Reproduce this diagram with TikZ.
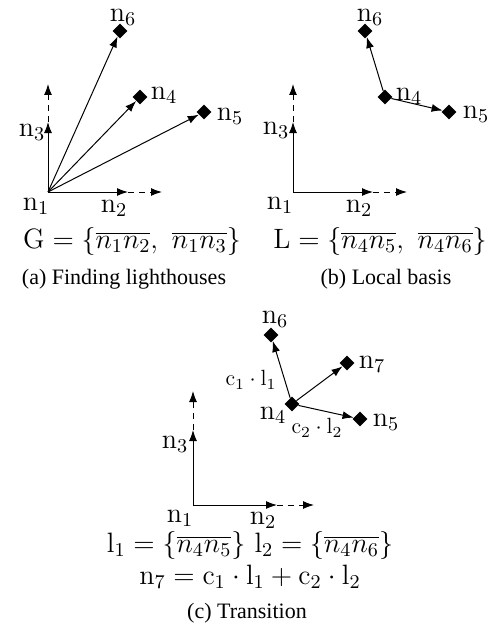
\RequirePackage{fix-cm}
\documentclass[tikz,border=0pt]{standalone}
\usepackage{fontspec}
\newfontfamily\capfont{Liberation Serif}
\usetikzlibrary{shapes.geometric,arrows.meta}
\tikzset{
  lbl/.style={font=\fontsize{14}{16}\selectfont, inner sep=0pt},
  smalllbl/.style={font=\fontsize{11}{13}\selectfont, inner sep=0pt},
  captext/.style={font=\capfont\fontsize{11}{13}\selectfont, inner sep=0pt},
  lh/.style={diamond, fill=black, inner sep=0pt, minimum size=7.5pt},
  arr/.style={-{Latex[length=5.5pt,width=4pt]}, line width=0.5pt},
  dsh/.style={arr, dash pattern=on 3pt off 2.5pt},
}
\begin{document}
\begin{tikzpicture}[x=0.5pt, y=-0.5pt]
\useasboundingbox (0,0) rectangle (494,631);

% ---------- panel (a)
\begin{scope}[shift={(48,192)}]
  \coordinate (a-o) at (0,0);
  \coordinate (a-xs) at (80,0);
  \coordinate (a-xd) at (114,0);
  \coordinate (a-ys) at (0,-70);
  \coordinate (a-yd) at (0,-108);
  \node[lh] (a-n6) at (72,-161) {};
  \node[lh] (a-n4) at (92,-95) {};
  \node[lh] (a-n5) at (156,-80) {};
  \draw[arr] (a-o) -- (a-xs);
  \draw[dsh] (a-xs) -- (a-xd);
  \draw[arr] (a-o) -- (a-ys);
  \draw[dsh] (a-ys) -- (a-yd);
  \draw[arr] (a-o) -- (a-n6);
  \draw[arr] (a-o) -- (a-n4);
  \draw[arr] (a-o) -- (a-n5);
  \node[lbl] (a-l6) at (75,-175) {$\mathrm{n}_6$};
  \node[lbl] (a-l4) at (116,-97) {$\mathrm{n}_4$};
  \node[lbl] (a-l5) at (182,-76) {$\mathrm{n}_5$};
  \node[lbl] (a-l3) at (-16,-60) {$\mathrm{n}_3$};
  \node[lbl] (a-l1) at (-12,14) {$\mathrm{n}_1$};
  \node[lbl] (a-l2) at (66,16) {$\mathrm{n}_2$};
\end{scope}
\node[lbl] (a-eq) at (132,241) {$\mathrm{G}=\{\overline{n_1n_2},\ \overline{n_1n_3}\}$};
\node[captext] (a-cap) at (124,279) {(a) Finding lighthouses};

% ---------- panel (b)
\begin{scope}[shift={(293,192)}]
  \coordinate (b-o) at (0,0);
  \coordinate (b-xs) at (80,0);
  \coordinate (b-xd) at (114,0);
  \coordinate (b-ys) at (0,-70);
  \coordinate (b-yd) at (0,-108);
  \node[lh] (b-n6) at (72,-161) {};
  \node[lh] (b-n4) at (92,-95) {};
  \node[lh] (b-n5) at (156,-80) {};
  \draw[arr] (b-o) -- (b-xs);
  \draw[dsh] (b-xs) -- (b-xd);
  \draw[arr] (b-o) -- (b-ys);
  \draw[dsh] (b-ys) -- (b-yd);
  \draw[arr] (b-n4) -- (b-n6);
  \draw[arr] (b-n4) -- (b-n5);
  \node[lbl] (b-l6) at (77,-175) {$\mathrm{n}_6$};
  \node[lbl] (b-l4) at (116,-96) {$\mathrm{n}_4$};
  \node[lbl] (b-l5) at (183,-78) {$\mathrm{n}_5$};
  \node[lbl] (b-l3) at (-17,-62) {$\mathrm{n}_3$};
  \node[lbl] (b-l1) at (-13,13) {$\mathrm{n}_1$};
  \node[lbl] (b-l2) at (66,16) {$\mathrm{n}_2$};
\end{scope}
\node[lbl] (b-eq) at (380,241) {$\mathrm{L}=\{\overline{n_4n_5},\ \overline{n_4n_6}\}$};
\node[captext] (b-cap) at (386,279) {(b) Local basis};

% ---------- panel (c)
\begin{scope}[shift={(193,505)}]
  \coordinate (c-o) at (0,0);
  \coordinate (c-xs) at (84,0);
  \coordinate (c-xd) at (121,0);
  \coordinate (c-ys) at (0,-75);
  \coordinate (c-yd) at (0,-114);
  \node[lh] (c-n6) at (78,-170) {};
  \node[lh] (c-n4) at (99,-101) {};
  \node[lh] (c-n5) at (167,-86) {};
  \node[lh] (c-n7) at (154,-142) {};
  \draw[arr] (c-o) -- (c-xs);
  \draw[dsh] (c-xs) -- (c-xd);
  \draw[arr] (c-o) -- (c-ys);
  \draw[dsh] (c-ys) -- (c-yd);
  \draw[arr] (c-n4) -- (c-n6);
  \draw[arr] (c-n4) -- (c-n7);
  \draw[arr] (c-n4) -- (c-n5);
  \node[lbl] (c-l6) at (82,-186) {$\mathrm{n}_6$};
  \node[lbl] (c-l7) at (179,-141) {$\mathrm{n}_7$};
  \node[lbl] (c-l5) at (193,-83) {$\mathrm{n}_5$};
  \node[lbl] (c-l4) at (80,-90) {$\mathrm{n}_4$};
  \node[lbl] (c-l3) at (-18,-61) {$\mathrm{n}_3$};
  \node[lbl] (c-l1) at (-13,13) {$\mathrm{n}_1$};
  \node[lbl] (c-l2) at (70,15) {$\mathrm{n}_2$};
  \node[smalllbl] (c-c1) at (58,-125) {$\mathrm{c}_1\cdot\mathrm{l}_1$};
  \node[smalllbl] (c-c2) at (124,-77) {$\mathrm{c}_2\cdot\mathrm{l}_2$};
\end{scope}
\node[lbl] (c-eq1) at (250,545) {$\mathrm{l}_1=\{\overline{n_4n_5}\}\ \mathrm{l}_2=\{\overline{n_4n_6}\}$};
\node[lbl] (c-eq2) at (250,577) {$\mathrm{n}_7=\mathrm{c}_1\cdot\mathrm{l}_1+\mathrm{c}_2\cdot\mathrm{l}_2$};
\node[captext] (c-cap) at (247,613) {(c) Transition};
\end{tikzpicture}
\end{document}
